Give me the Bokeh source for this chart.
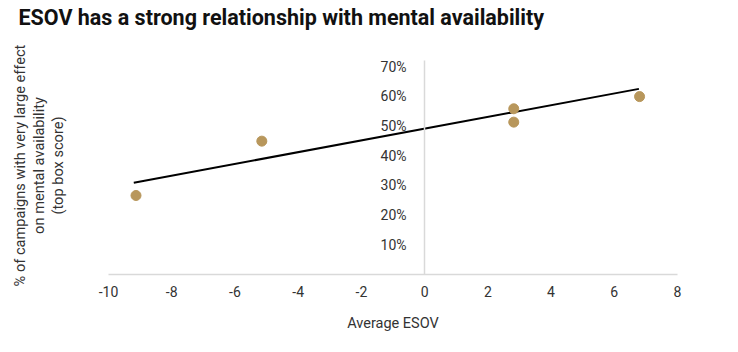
from bokeh.plotting import figure
from bokeh.models import Range1d, FixedTicker, LinearAxis
from bokeh.embed import file_html
from bokeh.resources import INLINE

# ---- data ----
esov = [-9.13, -5.15, 2.82, 2.82, 6.8]
mental_pct = [26.6, 44.9, 55.8, 51.3, 59.9]
trend_x = [-9.2, 6.78]
trend_y = [30.9, 62.5]
x_ticks = [-10, -8, -6, -4, -2, 0, 2, 4, 6, 8]
x_tick_labels = ["-10", "-8", "-6", "-4", "-2", "0", "2", "4", "6", "8"]
y_ticks = [10, 20, 30, 40, 50, 60, 70]
y_tick_labels = ["10%", "20%", "30%", "40%", "50%", "60%", "70%"]
title_text = "ESOV has a strong relationship with mental availability"
x_label = "Average ESOV"
y_label_lines = ["% of campaigns with very large effect",
                 "on mental availability",
                 "(top box score)"]

FONT = "Roboto"
TXT = "#333333"

p = figure(width=738, height=352, output_backend="svg", toolbar_location=None,
           x_range=Range1d(-10, 8), y_range=Range1d(0, 73.4),
           min_border_left=108, min_border_right=61, min_border_top=56,
           min_border_bottom=78)
p.outline_line_color = None
p.grid.visible = False
p.background_fill_color = "white"
p.border_fill_color = "white"

# title (a blank second line lifts it to the top of the canvas)
p.title.text = title_text + "\n\u00a0"
p.title.align = "left"
p.title.offset = -90
p.title.standoff = 4
p.title.text_font = FONT
p.title.text_font_style = "bold"
p.title.text_font_size = "21.5px"
p.title.text_color = "#111111"

# x axis
xa = p.xaxis[0]
xa.ticker = FixedTicker(ticks=x_ticks)
xa.major_label_overrides = {t: l for t, l in zip(x_ticks, x_tick_labels)}
xa.axis_line_color = "#d9d9d9"
xa.axis_line_width = 1.5
xa.major_tick_line_color = None
xa.minor_tick_line_color = None
xa.major_label_text_font = FONT
xa.major_label_text_font_size = "14px"
xa.major_label_text_color = TXT
xa.major_label_standoff = 5
xa.axis_label = x_label
xa.axis_label_text_font = FONT
xa.axis_label_text_font_style = "normal"
xa.axis_label_text_font_size = "14.5px"
xa.axis_label_text_color = TXT
xa.axis_label_standoff = 15

# y axis at x = 0
ya = p.yaxis[0]
ya.fixed_location = 0
ya.bounds = (0, 72)
ya.ticker = FixedTicker(ticks=y_ticks)
ya.major_label_overrides = {t: l for t, l in zip(y_ticks, y_tick_labels)}
ya.axis_line_color = "#d9d9d9"
ya.axis_line_width = 1.5
ya.major_tick_line_color = None
ya.minor_tick_line_color = None
ya.major_label_text_font = FONT
ya.major_label_text_font_size = "14px"
ya.major_label_text_color = TXT
ya.major_label_standoff = 12

# outer axis carrying only the multi-line y label
la = LinearAxis(ticker=FixedTicker(ticks=[]))
la.axis_line_color = None
la.major_tick_line_color = None
la.minor_tick_line_color = None
la.major_label_text_font_size = "0px"
la.axis_label = "\n".join(y_label_lines)
la.axis_label_text_font = FONT
la.axis_label_text_font_style = "normal"
la.axis_label_text_font_size = "14.6px"
la.axis_label_text_align = "center"
la.axis_label_text_line_height = 1.03
la.axis_label_text_color = TXT
la.axis_label_standoff = 42
p.add_layout(la, "left")

# trend line and points
p.line(trend_x, trend_y, line_color="black", line_width=2)
p.scatter(esov, mental_pct, size=10, fill_color="#b8975c", line_color="#b8975c")

open("out.html", "w").write(file_html(p, INLINE))
